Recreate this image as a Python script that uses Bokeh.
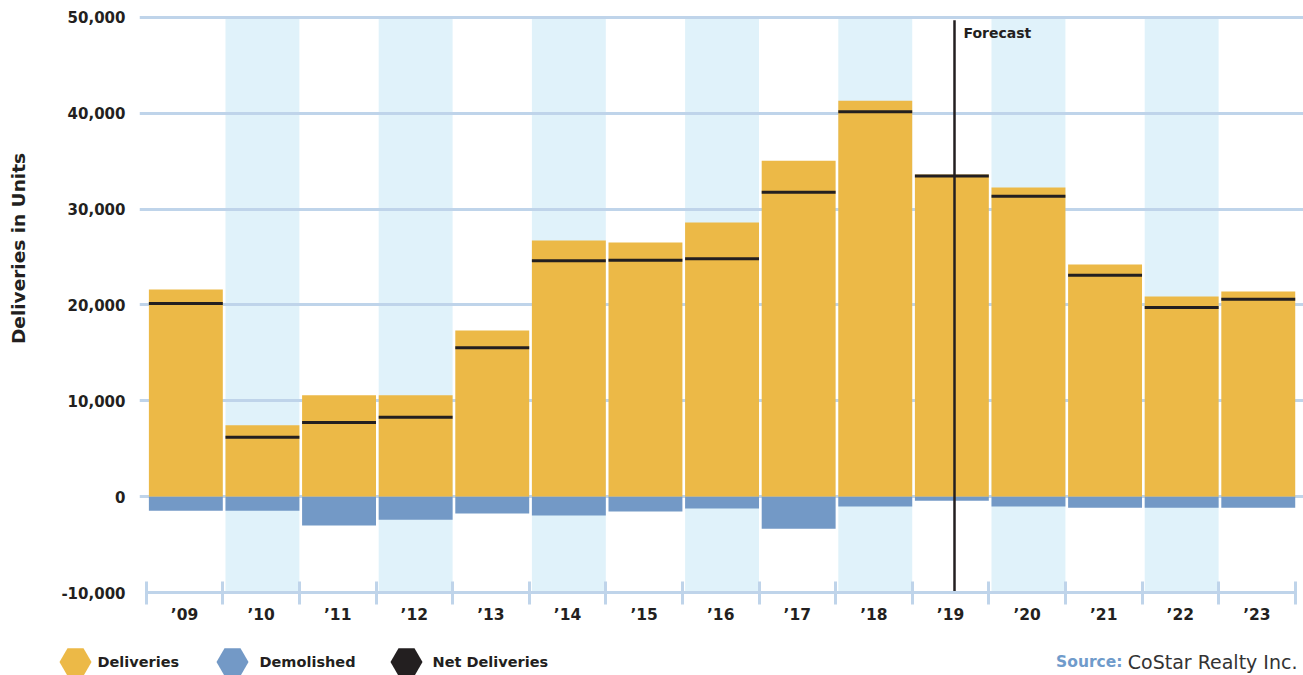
import math
from bokeh.plotting import figure
from bokeh.models import Range1d, FixedTicker, NumeralTickFormatter, Label
from bokeh.layouts import column, row
from bokeh.embed import file_html
from bokeh.resources import INLINE
from bokeh.core.properties import value

# ---------------- data ----------------
years = ["\u201909", "\u201910", "\u201911", "\u201912", "\u201913", "\u201914", "\u201915", "\u201916",
         "\u201917", "\u201918", "\u201919", "\u201920", "\u201921", "\u201922", "\u201923"]
deliveries = [21600, 7450, 10570, 10570, 17340, 26720, 26510, 28590,
              35050, 41300, 33600, 32240, 24220, 20890, 21410]
demolished = [-1460, -1460, -3020, -2400, -1770, -1980, -1560, -1250,
              -3340, -1040, -420, -1040, -1150, -1150, -1150]
net_deliveries = [20160, 6200, 7730, 8280, 15540, 24600, 24670, 24810,
                  31750, 40160, 33450, 31330, 23100, 19740, 20600]
y_ticks = [-10000, 0, 10000, 20000, 30000, 40000, 50000]
legend_labels = ["Deliveries", "Demolished", "Net Deliveries"]
y_title = "Deliveries in Units"
forecast_x = 10.552   # position of the forecast divider (inside '19)

# ---------------- style ----------------
FONT = "DejaVu Sans"
YEL = "#ECB947"
BLUE = "#7399C6"
BAND = "#E0F2FA"
GRID = "#BFD4EA"
DARK = "#231F20"
SRC_BLUE = "#6F9BCB"

TITLE_W = 40
MAIN_H = 635

n = len(years)
idx = list(range(n))
gap = 0.035
centers = [i + (1 + gap) / 2 for i in idx]
bar_w = 1 - gap

p = figure(width=1303 - TITLE_W, height=MAIN_H,
           x_range=Range1d(-0.0875, 15.108), y_range=Range1d(-10000, 50400),
           output_backend="svg", toolbar_location=None,
           min_border_left=139 - TITLE_W, min_border_right=0, min_border_top=13, min_border_bottom=43)
p.outline_line_color = None
p.background_fill_color = "white"
p.border_fill_color = "white"
p.frame_align = False

# alternating background bands
odd = [i for i in idx if i % 2 == 1]
p.quad(left=[i + gap for i in odd], right=[i + 1 for i in odd],
       bottom=y_ticks[0], top=y_ticks[-1], fill_color=BAND, line_color=None, level="image")

# grid
p.xgrid.visible = False
p.ygrid.ticker = FixedTicker(ticks=y_ticks)
p.ygrid.grid_line_color = GRID
p.ygrid.grid_line_width = 3

# bars
p.vbar(x=centers, width=bar_w, bottom=0, top=deliveries, fill_color=YEL, line_color=None)
p.vbar(x=centers, width=bar_w, bottom=demolished, top=0, fill_color=BLUE, line_color=None)
p.segment(x0=[i + gap for i in idx], x1=[i + 1 for i in idx], y0=net_deliveries, y1=net_deliveries,
          line_color=DARK, line_width=3)

# forecast divider
p.segment(x0=[forecast_x], x1=[forecast_x], y0=[y_ticks[0]], y1=[49700], line_color=DARK, line_width=2.5)
p.add_layout(Label(x=forecast_x + 0.117, y=48400, text="Forecast", text_font=FONT,
                   text_font_style="bold", text_font_size="14px", text_color=DARK,
                   text_baseline="middle"))

# x axis
label_pos = [i + 0.5 for i in idx]
xa = p.xaxis[0]
xa.ticker = FixedTicker(ticks=label_pos, minor_ticks=list(range(n + 1)))
xa.major_label_overrides = {pos: lab for pos, lab in zip(label_pos, years)}
xa.bounds = (0, n)
xa.axis_line_color = GRID
xa.axis_line_width = 3
xa.major_tick_in = 0
xa.major_tick_out = 0
xa.major_tick_line_color = None
xa.minor_tick_in = 11
xa.minor_tick_out = 12
xa.minor_tick_line_color = GRID
xa.minor_tick_line_width = 3
xa.major_label_standoff = 1
xa.major_label_text_font = FONT
xa.major_label_text_font_style = "bold"
xa.major_label_text_font_size = "15.5px"
xa.major_label_text_color = DARK

# y axis
ya = p.yaxis[0]
ya.ticker = FixedTicker(ticks=y_ticks)
ya.formatter = NumeralTickFormatter(format="0,0")
ya.axis_line_color = None
ya.major_tick_line_color = None
ya.minor_tick_line_color = None
ya.major_label_standoff = 8
ya.major_label_text_font = FONT
ya.major_label_text_font_style = "bold"
ya.major_label_text_font_size = "15px"
ya.major_label_text_color = DARK

# ---------------- y title strip ----------------
tf = figure(width=TITLE_W, height=MAIN_H, x_range=Range1d(0, TITLE_W), y_range=Range1d(0, MAIN_H),
            output_backend="svg", toolbar_location=None,
            x_axis_location=None, y_axis_location=None, min_border=0)
tf.frame_align = False
tf.outline_line_color = None
tf.grid.visible = False
tf.text(x=[18], y=[MAIN_H - 248], text=[y_title], angle=math.pi / 2,
        text_align="center", text_baseline="middle", text_font=value(FONT),
        text_font_style="bold", text_font_size="18.5px", text_color=DARK)

# ---------------- legend strip ----------------
leg = figure(width=1303, height=40, x_range=Range1d(0, 1303), y_range=Range1d(0, 40),
             output_backend="svg", toolbar_location=None,
             x_axis_location=None, y_axis_location=None, min_border=0)
leg.frame_align = False
leg.outline_line_color = None
leg.grid.visible = False
leg.scatter(x=[75, 232, 406], y=[13.5] * 3, marker="hex", size=32,
            fill_color=[YEL, BLUE, DARK], line_color=None)
leg.text(x=[97, 259, 432], y=[13.5] * 3, text=legend_labels, text_font=value(FONT),
         text_font_style="bold", text_font_size="14.5px", text_baseline="middle", text_color=DARK)
leg.text(x=[1297], y=[13.5], text=["CoStar Realty Inc."], text_font=value(FONT),
         text_font_size="19px", text_baseline="middle", text_align="right", text_color="#333333")
leg.text(x=[1122], y=[13.5], text=["Source:"], text_font=value(FONT), text_font_style="bold",
         text_font_size="15.5px", text_baseline="middle", text_align="right", text_color=SRC_BLUE)

layout = column(row(tf, p, spacing=0), leg, spacing=0)
open("out.html", "w").write(file_html(layout, INLINE))
